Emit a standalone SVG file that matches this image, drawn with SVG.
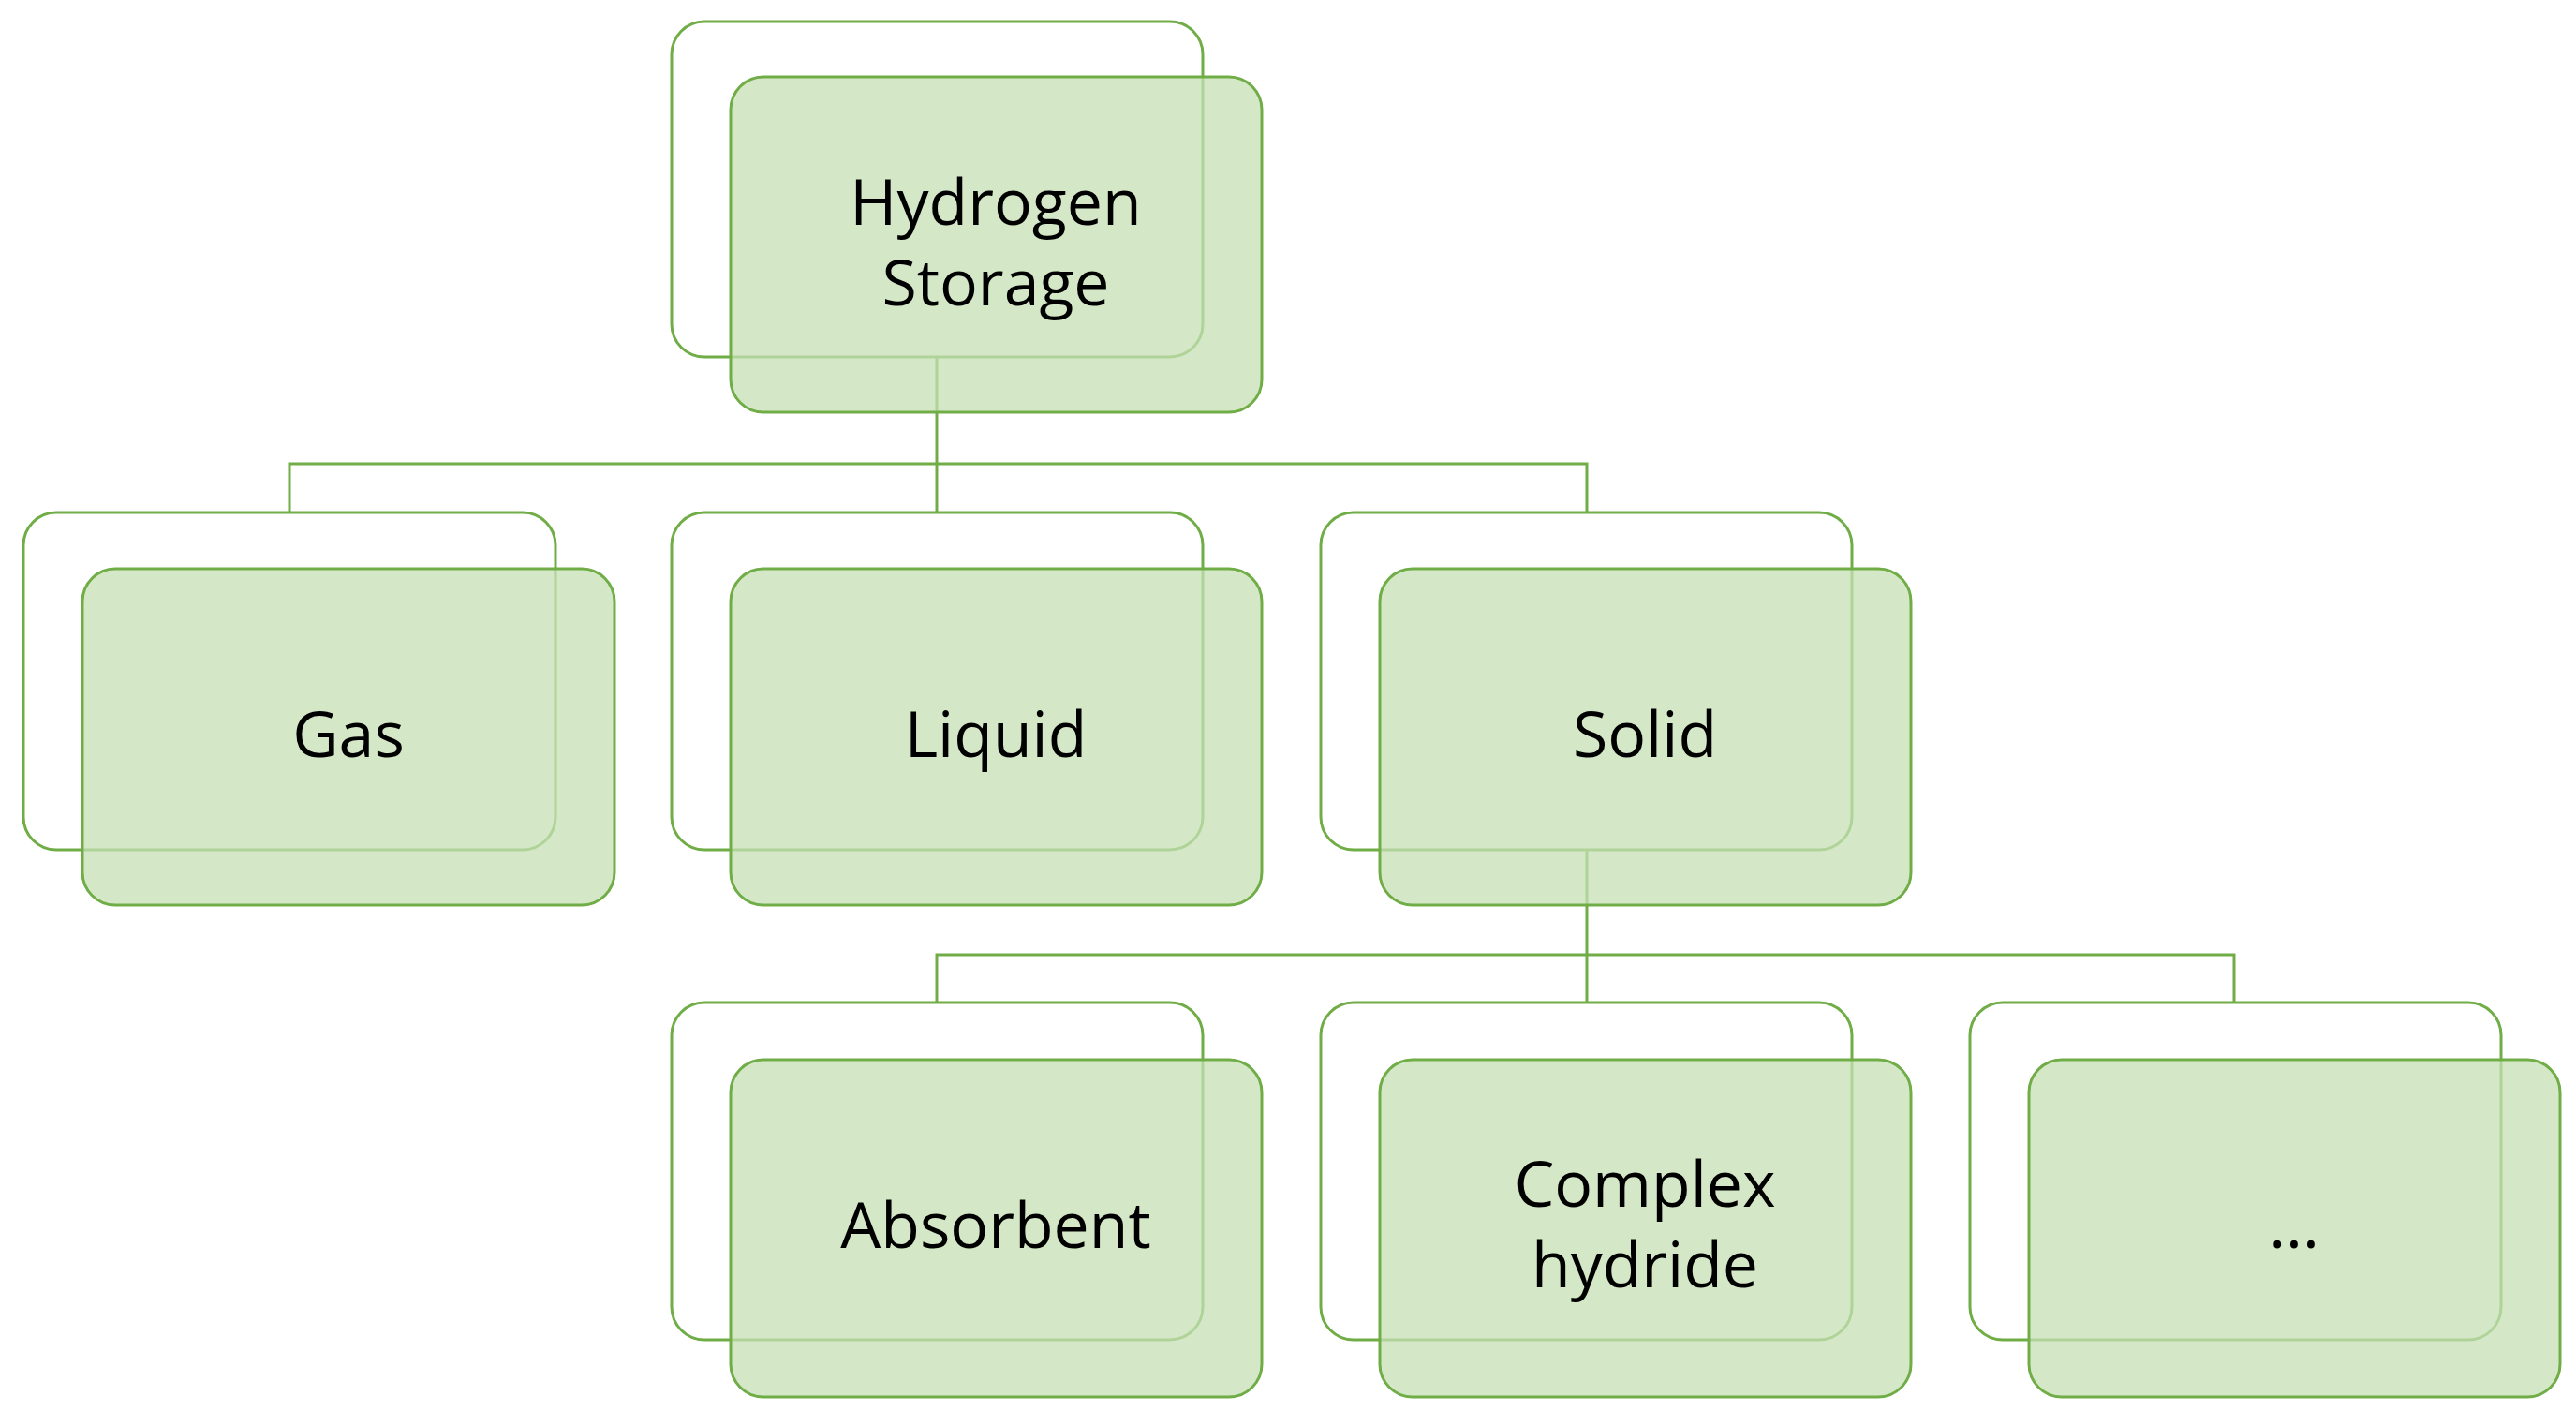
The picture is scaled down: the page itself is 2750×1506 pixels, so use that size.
<svg xmlns="http://www.w3.org/2000/svg" width="2750" height="1506" viewBox="0 0 2750 1506">
<style>
.back{fill:#ffffff;stroke:#70ad47;stroke-width:3}
.front{fill:#c5e0b4;fill-opacity:0.75;stroke:#70ad47;stroke-width:3}
.lbl{font-family:"Open Sans","Liberation Sans",sans-serif;font-size:68px;fill:#000;text-anchor:middle}
.con{fill:none;stroke:#70ad47;stroke-width:3}
</style>
<rect width="2750" height="1506" fill="#fff"/>
<g id="node-back">
<rect class="back" x="717" y="23" width="567" height="358" rx="35"/>
<rect class="back" x="25" y="547" width="568" height="360" rx="35"/>
<rect class="back" x="717" y="547" width="567" height="360" rx="35"/>
<rect class="back" x="1410" y="547" width="567" height="360" rx="35"/>
<rect class="back" x="717" y="1070" width="567" height="360" rx="35"/>
<rect class="back" x="1410" y="1070" width="567" height="360" rx="35"/>
<rect class="back" x="2103" y="1070" width="567" height="360" rx="35"/>
</g>
<g id="connectors">
<path class="con" d="M1000 381 V495 M309 547 V495 H1694 V547 M1000 495 V547"/>
<path class="con" d="M1694 907 V1019 M1000 1070 V1019 H2385 V1070 M1694 1019 V1070"/>
</g>
<g id="hydrogen-storage"><rect class="front" x="780" y="82" width="567" height="358" rx="35"/>
<text class="lbl" x="1063" y="240">Hydrogen</text><text class="lbl" x="1063" y="326">Storage</text></g>
<g id="gas"><rect class="front" x="88" y="607" width="568" height="359" rx="35"/><text class="lbl" x="372" y="808">Gas</text></g>
<g id="liquid"><rect class="front" x="780" y="607" width="567" height="359" rx="35"/><text class="lbl" x="1063" y="808">Liquid</text></g>
<g id="solid"><rect class="front" x="1473" y="607" width="567" height="359" rx="35"/><text class="lbl" x="1756" y="808">Solid</text></g>
<g id="absorbent"><rect class="front" x="780" y="1131" width="567" height="360" rx="35"/><text class="lbl" x="1063" y="1332">Absorbent</text></g>
<g id="complex-hydride"><rect class="front" x="1473" y="1131" width="567" height="360" rx="35"/>
<text class="lbl" x="1756" y="1288">Complex</text><text class="lbl" x="1756" y="1374">hydride</text></g>
<g id="etc"><rect class="front" x="2166" y="1131" width="567" height="360" rx="35"/><text class="lbl" x="2449" y="1332">...</text></g>
</svg>
